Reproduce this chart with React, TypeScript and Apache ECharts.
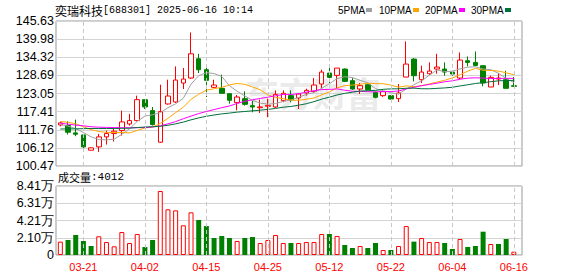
import React, { useEffect, useRef } from "react";
import * as echarts from "echarts";

const stockName = "奕瑞科技";
const stockHeader = "[688301] 2025-06-16 10:14";

const dates = [
  "03-18", "03-19", "03-20", "03-21", "03-24", "03-25", "03-26", "03-27", "03-28", "03-31",
  "04-01", "04-02", "04-03", "04-07", "04-08", "04-09", "04-10", "04-11", "04-14", "04-15",
  "04-16", "04-17", "04-18", "04-21", "04-22", "04-23", "04-24", "04-25", "04-28", "04-29",
  "04-30", "05-06", "05-07", "05-08", "05-09", "05-12", "05-13", "05-14", "05-15", "05-16",
  "05-19", "05-20", "05-21", "05-22", "05-23", "05-26", "05-27", "05-28", "05-29", "05-30",
  "06-03", "06-04", "06-05", "06-06", "06-09", "06-10", "06-11", "06-12", "06-13", "06-16",
];

const opens = [
  113.26, 113.06, 110.78, 110.16, 105.39, 106.43, 109.54, 110.57, 111.5, 113.57,
  114.61, 121.13, 117.72, 107.88, 119.79, 120.41, 126.31, 127.86, 133.87, 130.45,
  124.97, 124.66, 123.0, 120.2, 121.44, 119.27, 118.65, 119.06, 118.86, 120.82,
  122.38, 121.65, 123.21, 123.72, 126.0, 129.42, 128.69, 130.66, 127.04, 124.45,
  125.79, 123.41, 122.38, 122.38, 121.44, 128.17, 133.77, 127.35, 129.21, 130.66,
  130.66, 129.73, 127.86, 133.25, 132.73, 131.7, 125.07, 127.55, 127.35, 125.48,
];
const closes = [
  113.89, 110.99, 110.37, 106.43, 106.12, 109.54, 110.57, 111.3, 114.2, 114.61,
  121.13, 118.86, 113.37, 117.41, 122.27, 127.24, 127.55, 135.42, 130.45, 127.14,
  125.69, 123.1, 120.93, 121.96, 119.68, 118.86, 118.86, 119.37, 122.79, 123.1,
  121.03, 122.89, 124.03, 125.69, 129.73, 128.07, 130.97, 126.83, 124.45, 125.48,
  124.24, 121.86, 123.62, 121.34, 123.21, 132.21, 128.59, 129.73, 130.04, 131.28,
  129.73, 129.11, 133.46, 132.73, 131.8, 126.31, 128.07, 127.86, 124.66, 125.28,
];
const lows = [
  112.8, 110.26, 109.74, 105.08, 105.29, 104.88, 107.15, 108.09, 109.95, 113.06,
  114.4, 118.23, 113.06, 107.67, 119.58, 120.1, 124.45, 127.55, 129.42, 121.96,
  124.76, 123.0, 119.89, 117.82, 119.27, 117.2, 116.99, 115.65, 118.55, 120.31,
  120.31, 118.23, 122.38, 123.21, 124.55, 126.31, 124.76, 126.6, 124.2, 122.89,
  124.0, 121.55, 121.96, 121.13, 120.41, 128.17, 126.83, 126.31, 128.9, 129.21,
  128.59, 128.59, 127.55, 131.49, 131.49, 125.28, 125.07, 125.69, 124.66, 125.28,
];
const highs = [
  114.3, 114.4, 114.92, 110.47, 106.33, 110.47, 111.5, 112.02, 117.72, 116.68,
  122.38, 121.34, 118.86, 125.79, 127.35, 131.49, 130.97, 142.05, 135.42, 131.49,
  127.35, 128.9, 123.0, 122.58, 123.72, 120.72, 121.13, 121.44, 124.03, 124.03,
  124.03, 123.0, 124.55, 127.86, 130.45, 130.97, 130.97, 130.9, 127.86, 126.31,
  125.9, 123.72, 124.24, 122.58, 126.0, 139.26, 134.08, 131.7, 132.73, 135.42,
  132.73, 130.14, 135.84, 134.6, 136.15, 131.7, 128.59, 129.42, 130.14, 128.2,
];
const volumes = [
  16300, 18300, 24400, 17100, 11000, 22800, 15800, 10600, 28000, 14600,
  25600, 9800, 18300, 78000, 55700, 54400, 36200, 52000, 42700, 35300,
  20700, 23200, 20700, 17100, 20700, 21900, 14600, 18300, 24400, 14600,
  14600, 14600, 15800, 15800, 25600, 25600, 23200, 12200, 8500, 11000,
  8500, 14600, 6100, 6100, 11000, 35300, 16300, 20700, 15800, 15800,
  14600, 7300, 19500, 9800, 11000, 28400, 13400, 13400, 19500, 4012,
];

// moving-average values for the bars before each window is complete
const ma5Lead = [113.4, 112.9, 112.1, 110.9];
const ma10Lead = [114.3, 114.1, 113.6, 112.7, 111.8, 111.2, 110.95, 110.9, 110.9];
const ma20Lead = [
  113.8, 113.5, 113.2, 113.0, 112.7, 112.55, 112.5, 112.45, 112.4, 112.4,
  112.4, 112.45, 112.6, 113.0, 113.6, 114.3, 115.2, 116.0, 116.8,
];
const ma30Lead = [
  112.0, 112.0, 112.05, 112.1, 112.15, 112.15, 112.15, 112.15, 112.2, 112.25,
  112.45, 112.6, 112.7, 112.85, 113.15, 113.6, 114.15, 114.85, 115.45, 115.95,
  116.35, 116.7, 116.95, 117.25, 117.45, 117.65, 117.85, 118.1, 118.4,
];

const priceTickLabels = ["100.47", "106.12", "111.76", "117.41", "123.05", "128.69", "134.32", "139.98", "145.63"];
const priceMin = 100.47;
const priceMax = 145.63;
const volumeTickLabels = ["0", "2.10万", "4.21万", "6.31万", "8.41万"];
const volumeMax = 84100;
const labelDates = ["03-21", "04-02", "04-15", "04-25", "05-12", "05-22", "06-04", "06-16"];

const maNames = ["5PMA", "10PMA", "20PMA", "30PMA"];
const maPeriods = [5, 10, 20, 30];
const maLeads = [ma5Lead, ma10Lead, ma20Lead, ma30Lead];
const maColors = ["#a0a0a0", "#ffa500", "#ff00ff", "#00703c"];

const UP = "#ff0000";
const DOWN = "#008000";
const FONT = '"Liberation Sans", Arial, sans-serif';
const MONO = '"Liberation Mono", "DejaVu Sans Mono", monospace';
const CJK = '"Noto Sans CJK SC", sans-serif';

function movingAverage(period: number, lead: number[]) {
  return closes.map((_, i) => {
    if (i < period - 1) return lead[i];
    let s = 0;
    for (let k = i - period + 1; k <= i; k++) s += closes[k];
    return +(s / period).toFixed(3);
  });
}

export default function App() {
  const ref = useRef<HTMLDivElement>(null);
  useEffect(() => {
    if (!ref.current) return;
    const chart = echarts.init(ref.current, null, { renderer: "svg" });

    const candleData = dates.map((_, i) => [opens[i], closes[i], lows[i], highs[i]]);
    const volData = volumes.map((v, i) => {
      const up = i === 0 || closes[i] >= closes[i - 1];
      return {
        value: v,
        itemStyle: up
          ? { color: "#ffffff", borderColor: UP, borderWidth: 1 }
          : { color: DOWN, borderColor: DOWN, borderWidth: 0 },
      };
    });

    const dashLine = {
      silent: true,
      symbol: ["none", "none"],
      label: { show: false },
      emphasis: { disabled: true },
      lineStyle: { type: [4, 3], color: "#c8c8c8", width: 1 },
      data: labelDates.map((d) => ({ xAxis: d })),
    };

    const legendX = [338, 379, 425, 471];
    const markerX = [366, 413, 459, 505];
    const legendGraphics: any[] = [];
    maNames.forEach((n, k) => {
      legendGraphics.push({
        type: "text",
        x: legendX[k],
        y: 10,
        style: { text: n, font: `10px ${FONT}`, fill: "#000", verticalAlign: "middle" },
      });
      legendGraphics.push({
        type: "rect",
        shape: { x: markerX[k], y: 8, width: 6, height: 4 },
        style: { fill: maColors[k] },
      });
    });

    const option: any = {
      animation: false,
      backgroundColor: "#ffffff",
      graphic: [
        {
          type: "text",
          x: 245,
          y: 92,
          z: 0,
          silent: true,
          style: {
            text: "东方财富",
            font: `bold 34px ${CJK}`,
            fill: "#ebebeb",
            verticalAlign: "middle",
          },
        },
        {
          type: "text",
          x: 55,
          y: 10,
          style: {
            text: `{a|${stockName}}{b|${stockHeader}}`,
            verticalAlign: "middle",
            rich: {
              a: { fontFamily: CJK, fontSize: 12, fill: "#000", color: "#000" },
              b: { fontFamily: MONO, fontSize: 10, fill: "#000", color: "#000" },
            },
          },
        },
        {
          type: "text",
          x: 58,
          y: 177,
          style: {
            text: `{a|成交量}{b|:${volumes[volumes.length - 1]}}`,
            verticalAlign: "middle",
            rich: {
              a: { fontFamily: CJK, fontSize: 11, fill: "#000", color: "#000" },
              b: { fontFamily: MONO, fontSize: 11, fill: "#000", color: "#000" },
            },
          },
        },
        ...legendGraphics,
      ],
      grid: [
        { left: 56, top: 21, width: 466, height: 145, show: true, borderColor: "#999", borderWidth: 1, backgroundColor: "transparent" },
        { left: 56.5, top: 21, width: 461.2, height: 145 },
        { left: 56, top: 186, width: 466, height: 69, show: true, borderColor: "#999", borderWidth: 1, backgroundColor: "transparent" },
        { left: 56.5, top: 186, width: 461.2, height: 69 },
      ],
      xAxis: [
        { gridIndex: 0, type: "value", min: 0, max: 1, show: false },
        {
          gridIndex: 1, type: "category", data: dates, boundaryGap: true,
          axisLine: { show: false }, axisTick: { show: false }, axisLabel: { show: false }, splitLine: { show: false },
        },
        { gridIndex: 2, type: "value", min: 0, max: 1, show: false },
        {
          gridIndex: 3, type: "category", data: dates, boundaryGap: true,
          axisLine: { show: false }, axisTick: { show: false }, splitLine: { show: false },
          axisLabel: {
            interval: (_: number, value: string) => labelDates.includes(value),
            color: UP, fontSize: 11, fontFamily: FONT, margin: 6,
          },
        },
      ],
      yAxis: [
        {
          gridIndex: 0, type: "value", min: 0, max: priceTickLabels.length - 1, interval: 1,
          axisLine: { show: false }, axisTick: { show: false },
          axisLabel: {
            formatter: (v: number) => priceTickLabels[Math.round(v)],
            color: "#000", fontSize: 12.5, fontFamily: FONT, margin: 2,
          },
          splitLine: { lineStyle: { color: "#d4d4d4", width: 1 } },
        },
        { gridIndex: 1, type: "value", min: priceMin, max: priceMax, show: false, splitLine: { show: false } },
        {
          gridIndex: 2, type: "value", min: 0, max: volumeTickLabels.length - 1, interval: 1,
          axisLine: { show: false }, axisTick: { show: false },
          axisLabel: {
            formatter: (v: number) => volumeTickLabels[Math.round(v)],
            color: "#000", fontSize: 12.5, fontFamily: FONT, margin: 2,
          },
          splitLine: { lineStyle: { color: "#d4d4d4", width: 1 } },
        },
        { gridIndex: 3, type: "value", min: 0, max: volumeMax, show: false, splitLine: { show: false } },
      ],
      series: [
        { type: "line", xAxisIndex: 1, yAxisIndex: 1, data: [], z: 1, silent: true, markLine: dashLine },
        {
          type: "candlestick",
          xAxisIndex: 1,
          yAxisIndex: 1,
          data: candleData,
          barWidth: 5,
          z: 3,
          itemStyle: { color: "#ffffff", color0: DOWN, borderColor: UP, borderColor0: DOWN, borderWidth: 1 },
        },
        ...maNames.map((n, k) => ({
          name: n,
          type: "line",
          xAxisIndex: 1,
          yAxisIndex: 1,
          data: movingAverage(maPeriods[k], maLeads[k]),
          showSymbol: false,
          symbol: "none",
          z: 4,
          silent: true,
          lineStyle: { width: 1, color: maColors[k] },
        })),
        { type: "line", xAxisIndex: 3, yAxisIndex: 3, data: [], z: 1, silent: true, markLine: dashLine },
        {
          type: "bar",
          xAxisIndex: 3,
          yAxisIndex: 3,
          data: volData,
          barWidth: 5,
          z: 3,
        },
      ],
    };
    chart.setOption(option);
    return () => chart.dispose();
  }, []);

  return (
    <div
      ref={ref}
      style={{ position: "fixed", left: 0, top: 0, width: 578, height: 276, background: "#fff" }}
    />
  );
}
